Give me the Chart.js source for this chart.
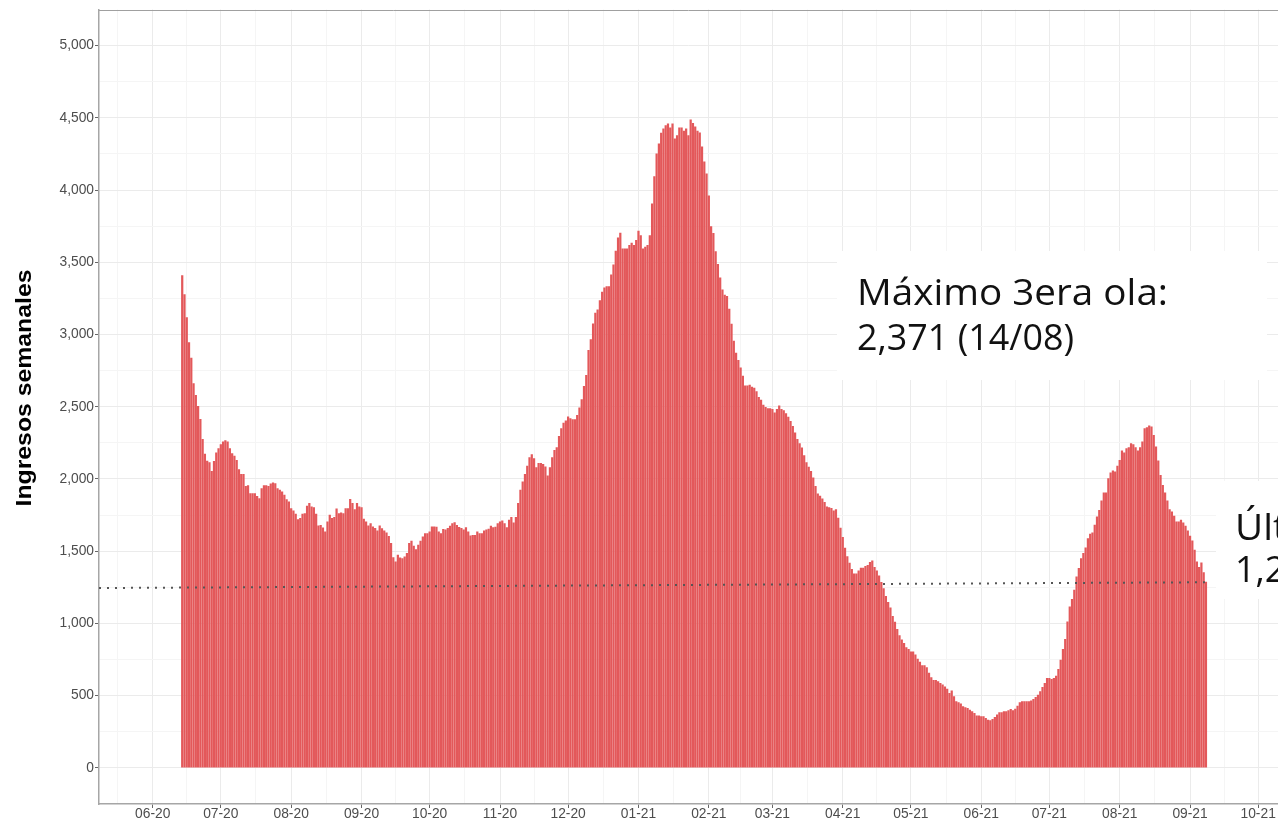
<!DOCTYPE html>
<html lang="es">
<head>
<meta charset="utf-8">
<title>Ingresos semanales</title>
<script src="https://cdn.jsdelivr.net/npm/chart.js@4.4.1/dist/chart.umd.min.js"></script>
<style>
  html, body { margin: 0; padding: 0; background: #fff; }
  #wrap { width: 1278px; height: 819px; }
</style>
</head>
<body>
<div id="wrap"><canvas id="grafico" width="1278" height="819"></canvas></div>
<script>
// Ingresos semanales (suma de 7 dias), un valor por dia a partir de fechaInicio
const fechaInicio = '2020-06-14';

// 14/06/2020 - 02/10/2020
const ingresosJunOct2020 = [
  3411, 3278, 3119, 2946, 2840, 2662, 2582, 2505, 2416, 2277,
  2174, 2127, 2116, 2056, 2125, 2183, 2213, 2240, 2259, 2268,
  2259, 2213, 2178, 2160, 2132, 2068, 2035, 2035, 1952, 1956,
  1902, 1902, 1902, 1883, 1867, 1936, 1957, 1957, 1952, 1968,
  1975, 1970, 1936, 1925, 1913, 1890, 1860, 1844, 1798, 1782,
  1759, 1722, 1729, 1759, 1763, 1814, 1833, 1809, 1805, 1759,
  1678, 1682, 1664, 1636, 1705, 1752, 1729, 1736, 1795, 1763,
  1768, 1763, 1798, 1798, 1862, 1833, 1791, 1833, 1809, 1805,
  1724, 1705, 1678, 1694, 1671, 1661, 1643, 1678, 1659, 1643,
  1629, 1606, 1556, 1459, 1429, 1475, 1457, 1452, 1464, 1487,
  1556, 1572, 1537, 1514, 1544, 1572, 1602, 1625, 1625, 1636,
  1671
];

// 03/10/2020 - 23/01/2021
const ingresosOct2020Ene2021 = [
  1671, 1670, 1636, 1625, 1653, 1650, 1660, 1676, 1694, 1701,
  1682, 1668, 1660, 1650, 1665, 1636, 1609, 1613, 1613, 1636,
  1625, 1625, 1643, 1650, 1655, 1676, 1665, 1670, 1694, 1705,
  1712, 1694, 1665, 1717, 1736, 1698, 1736, 1833, 1925, 1982,
  2035, 2091, 2151, 2172, 2144, 2082, 2110, 2110, 2103, 2086,
  2024, 2082, 2151, 2201, 2220, 2298, 2351, 2390, 2404, 2432,
  2420, 2413, 2413, 2443, 2494, 2552, 2644, 2720, 2893, 2967,
  3077, 3151, 3174, 3238, 3296, 3326, 3335, 3335, 3416, 3485,
  3580, 3672, 3704, 3596, 3596, 3596, 3619, 3635, 3619, 3654,
  3718, 3688, 3596, 3608, 3619, 3688, 3907, 4096, 4253, 4322,
  4396, 4426, 4449, 4461, 4433, 4461, 4357, 4380, 4433, 4433,
  4410, 4426, 4380
];

// 24/01/2021 - 18/05/2021
const ingresosEneMay2021 = [
  4488, 4464, 4440, 4411, 4399, 4301, 4198, 4115, 3962, 3749,
  3702, 3577, 3489, 3394, 3312, 3276, 3267, 3179, 3075, 2957,
  2874, 2824, 2771, 2715, 2647, 2647, 2653, 2638, 2632, 2608,
  2567, 2549, 2514, 2499, 2490, 2490, 2484, 2460, 2484, 2508,
  2484, 2475, 2455, 2431, 2401, 2366, 2322, 2277, 2248, 2218,
  2165, 2115, 2085, 2056, 2011, 1952, 1899, 1884, 1864, 1840,
  1810, 1805, 1799, 1781, 1790, 1731, 1663, 1598, 1524, 1465,
  1420, 1376, 1346, 1346, 1367, 1385, 1385, 1397, 1405, 1426,
  1435, 1391, 1367, 1332, 1287, 1243, 1190, 1148, 1110, 1051,
  1012, 962, 918, 888, 865, 835, 823, 805, 805, 785,
  755, 735, 711, 711, 696, 658, 628, 608, 608, 599,
  587, 578, 563, 548, 519
];

// 19/05/2021 - 08/09/2021
const ingresosMaySep2021 = [
  535, 496, 461, 454, 445, 426, 420, 415, 403, 392,
  380, 362, 362, 357, 357, 346, 334, 330, 339, 353,
  369, 385, 385, 392, 392, 399, 408, 399, 410, 431,
  454, 461, 461, 461, 461, 466, 477, 491, 507, 530,
  560, 588, 622, 622, 615, 622, 638, 685, 749, 823,
  892, 1014, 1118, 1169, 1233, 1325, 1383, 1452, 1487, 1526,
  1590, 1620, 1630, 1683, 1740, 1786, 1851, 1906, 1906, 2005,
  2045, 2058, 2051, 2091, 2132, 2197, 2183, 2213, 2220, 2247,
  2241, 2220, 2197, 2220, 2259, 2351, 2358, 2371, 2363, 2305,
  2224, 2128, 2028, 1959, 1906, 1851, 1791, 1775, 1745, 1706,
  1706, 1717, 1699, 1676, 1644, 1607, 1574, 1510, 1429, 1390,
  1422, 1355, 1288
];

const etiquetasMes = ['06-20', '07-20', '08-20', '09-20', '10-20', '11-20', '12-20', '01-21',
  '02-21', '03-21', '04-21', '05-21', '06-21', '07-21', '08-21', '09-21', '10-21'];
const etiquetasY = [0, 500, 1000, 1500, 2000, 2500, 3000, 3500, 4000, 4500, 5000];

// linea punteada de referencia (extremos)
const lineaRefFechas = ['2020-05-08', '2021-09-08'];
const lineaRefValores = [1245, 1285];

const textoMaximo = ['Máximo 3era ola:', '2,371 (14/08)'];
const textoUltimo = ['Último:', '1,288'];
const tituloY = 'Ingresos semanales';

const BASE = Date.UTC(2020, 5, 1);
function diaDe(fecha) {
  const [a, m, d] = fecha.split('-').map(Number);
  return (Date.UTC(a, m - 1, d) - BASE) / 86400000;
}
function diaDeMes(a, m) {
  return (Date.UTC(a, m - 1, 1) - BASE) / 86400000;
}

const diaMin = -23.66;
const diaMax = 495.74;

const ingresos = [...ingresosJunOct2020, ...ingresosOct2020Ene2021, ...ingresosEneMay2021, ...ingresosMaySep2021];
const dia0 = diaDe(fechaInicio);
const puntos = ingresos.map((v, i) => ({ x: dia0 + i, y: v }));
const lineaRef = lineaRefFechas.map((f, i) => ({ x: Math.max(diaDe(f), diaMin), y: lineaRefValores[i] }));

// ticks del eje x: inicios de mes (con etiqueta) y mitad de mes (solo rejilla)
const etiquetaPorDia = {};
etiquetasMes.forEach(e => {
  const [mm, aa] = e.split('-').map(Number);
  etiquetaPorDia[diaDeMes(2000 + aa, mm)] = e;
});
const iniciosMes = [];
for (let k = 0; k < 20; k++) {
  const m = 4 + k; // desde mayo 2020
  iniciosMes.push(diaDeMes(2020 + Math.floor(m / 12), (m % 12) + 1));
}
const ticksX = [];
iniciosMes.forEach((d, i) => {
  ticksX.push(d);
  if (i < iniciosMes.length - 1) ticksX.push((d + iniciosMes[i + 1]) / 2);
});
const ticksXVisibles = ticksX.filter(d => d >= diaMin && d <= diaMax).sort((a, b) => a - b);

const ticksY = [];
etiquetasY.forEach((v, i) => {
  ticksY.push(v);
  if (i < etiquetasY.length - 1) ticksY.push((v + etiquetasY[i + 1]) / 2);
});

const GRID_MAYOR = '#ebebeb';
const GRID_MENOR = '#f5f5f5';
const fuenteEje = { family: '"Liberation Sans", Arial, Helvetica, sans-serif', size: 13.8, lineHeight: 1 };

const anotaciones = {
  id: 'anotaciones',
  afterDraw(chart) {
    const ctx = chart.ctx;
    const area = chart.chartArea;
    ctx.save();

    // borde superior del panel
    ctx.strokeStyle = '#a0a0a0';
    ctx.lineWidth = 1;
    ctx.beginPath();
    ctx.moveTo(area.left, Math.round(area.top) + 0.5);
    ctx.lineTo(area.right, Math.round(area.top) + 0.5);
    ctx.stroke();

    // cajas blancas de las etiquetas
    ctx.fillStyle = '#ffffff';
    ctx.fillRect(837, 251, 430, 129);
    ctx.fillRect(1216, 481, 80, 118);

    ctx.fillStyle = '#111111';
    ctx.font = '400 36px "Open Sans", "Noto Sans", sans-serif';
    ctx.textBaseline = 'alphabetic';
    ctx.textAlign = 'left';
    const escrito = (txt, x, y, sx) => {
      ctx.save();
      ctx.translate(x, y);
      ctx.scale(sx, 1);
      ctx.fillText(txt, 0, 0);
      ctx.restore();
    };
    const s1 = 311 / ctx.measureText(textoMaximo[0]).width;
    const s2 = 217 / ctx.measureText(textoMaximo[1]).width;
    escrito(textoMaximo[0], 857, 305, s1);
    escrito(textoMaximo[1], 857, 350, s2);
    escrito(textoUltimo[0], 1235, 540, s1);
    escrito(textoUltimo[1], 1235, 582, s2);

    // titulo del eje y
    ctx.font = 'bold 22px "Liberation Sans", Arial, Helvetica, sans-serif';
    ctx.fillStyle = '#000000';
    ctx.textAlign = 'center';
    const st = 237 / ctx.measureText(tituloY).width;
    ctx.translate(31, 388);
    ctx.rotate(-Math.PI / 2);
    ctx.scale(st, 1);
    ctx.fillText(tituloY, 0, 0);
    ctx.restore();
  }
};

new Chart(document.getElementById('grafico').getContext('2d'), {
  type: 'bar',
  data: {
    datasets: [
      {
        type: 'line',
        data: lineaRef,
        borderColor: '#555555',
        borderWidth: 2,
        borderDash: [2, 6],
        pointRadius: 0,
        fill: false,
        order: 1
      },
      {
        type: 'bar',
        data: puntos,
        backgroundColor: '#E3585A',
        borderWidth: 0,
        barPercentage: 1,
        categoryPercentage: 0.98,
        order: 2
      }
    ]
  },
  options: {
    responsive: false,
    devicePixelRatio: 1,
    animation: false,
    layout: { padding: { top: 9.5, right: 0, bottom: 0, left: 0 } },
    plugins: {
      legend: { display: false },
      tooltip: { enabled: false }
    },
    scales: {
      x: {
        type: 'linear',
        min: diaMin,
        max: diaMax,
        offset: false,
        afterBuildTicks: s => { s.ticks = ticksXVisibles.map(v => ({ value: v })); },
        afterFit: s => { s.height = 15; s.paddingLeft = 0; s.paddingRight = 0; },
        ticks: {
          autoSkip: false,
          maxRotation: 0,
          minRotation: 0,
          padding: -1,
          color: '#4d4d4d',
          font: fuenteEje,
          callback: v => etiquetaPorDia[v] || ''
        },
        grid: {
          offset: false,
          lineWidth: 1,
          tickLength: 4,
          color: c => (c.tick && etiquetaPorDia[c.tick.value]) ? GRID_MAYOR : GRID_MENOR,
          tickColor: c => (c.tick && etiquetaPorDia[c.tick.value]) ? '#666666' : 'rgba(0,0,0,0)'
        },
        border: { display: true, color: '#a6a6a6', width: 1.5 }
      },
      y: {
        type: 'linear',
        min: -250,
        max: 5250,
        afterBuildTicks: s => { s.ticks = ticksY.map(v => ({ value: v })); },
        afterFit: s => { s.width = 99; },
        ticks: {
          autoSkip: false,
          padding: 1,
          color: '#4d4d4d',
          font: fuenteEje,
          callback: v => etiquetasY.includes(v) ? v.toLocaleString('en-US') : ''
        },
        grid: {
          lineWidth: 1,
          tickLength: 4,
          color: c => (c.tick && etiquetasY.includes(c.tick.value)) ? GRID_MAYOR : GRID_MENOR,
          tickColor: c => (c.tick && etiquetasY.includes(c.tick.value)) ? '#666666' : 'rgba(0,0,0,0)'
        },
        border: { display: true, color: '#a6a6a6', width: 1.5 }
      }
    }
  },
  plugins: [anotaciones]
});
</script>
</body>
</html>
